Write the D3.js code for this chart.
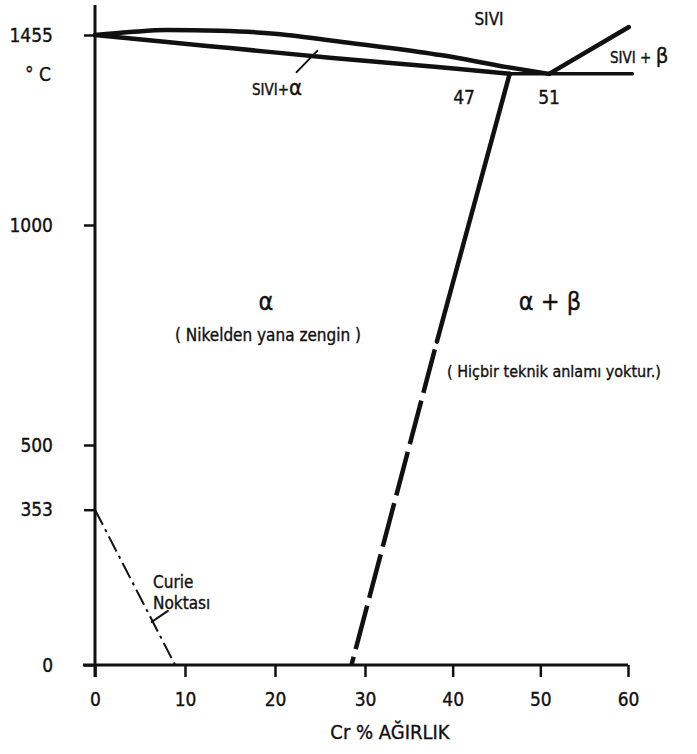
<!DOCTYPE html>
<html lang="tr">
<head>
<meta charset="UTF-8">
<title>Ni-Cr faz diyagrami</title>
<script src="https://cdn.jsdelivr.net/npm/d3@7"></script>
<style>
    body { margin: 0; background: #fff; }
    svg text { font-family: "DejaVu Sans Condensed", "DejaVu Sans", sans-serif; fill: #111; stroke: #111; stroke-width: 0.35px; }
</style>
</head>
<body>
<svg id="chart" width="697" height="754"></svg>
<script>
// eksen degerleri
const crTicks = [0, 10, 20, 30, 40, 50, 60];
const tempTicks = [0, 353, 500, 1000, 1455];

// likidus (SIVI / SIVI+alfa)
const liqCr = [0, 3.9, 8, 13.9, 20.6, 26.4, 32.9, 38.6, 46.2, 51];
const liqT = [1455, 1462, 1467, 1465, 1457, 1441, 1424, 1407, 1378, 1362];
// solidus
const solCr = [0, 8, 15.3, 26.4, 38.6, 46.5];
const solT = [1455, 1438, 1423, 1400, 1378, 1362];
// otektik yatay cizgi
const eutCr = [46.5, 60.5];
const eutT = [1362, 1362];
// beta likidus
const betaCr = [51, 60.1];
const betaT = [1362, 1474];
// cozunurluk siniri: duz kisim ve kesikli kisim
const solvCr = [46.5, 38.2];
const solvT = [1362, 735];
const solvDashCr = [38.2, 28.5];
const solvDashT = [735, 0];
// Curie noktasi
const curieCr = [0, 8.9];
const curieT = [353, 0];

const svg = d3.select("#chart");

// olcekler (orijinal cizimdeki eksen biraz dogrusal degil)
const x = d3.scaleLinear().domain([0, 30, 60]).range([95, 365, 628]);
const y = d3.scaleLinear().domain([0, 1000, 1455]).range([665, 225, 35]);

const line = d3.line().x(d => x(d[0])).y(d => y(d[1])).curve(d3.curveMonotoneX);
const straight = d3.line().x(d => x(d[0])).y(d => y(d[1]));
const zip = (a, b) => a.map((v, i) => [v, b[i]]);

// eksenler
const xAxis = svg.append("g")
    .attr("transform", `translate(0,${y(0)})`)
    .call(d3.axisBottom(x).tickValues(crTicks).tickSize(12).tickPadding(16).tickFormat(d3.format("d")));
const yAxis = svg.append("g")
    .attr("transform", `translate(${x(0)},0)`)
    .call(d3.axisLeft(y).tickValues(tempTicks).tickSize(11).tickPadding(31).tickFormat(d3.format("d")));
[xAxis, yAxis].forEach(g => {
    g.select(".domain").remove();
    g.selectAll(".tick line").attr("stroke", "#111").attr("stroke-width", 2.5);
    g.selectAll(".tick text").style("font-size", "19px").attr("fill", "#111");
});

svg.append("line").attr("x1", x(0)).attr("x2", x(0)).attr("y1", 5).attr("y2", y(0) + 12)
    .attr("stroke", "#111").attr("stroke-width", 3);
svg.append("line").attr("x1", x(0) - 12).attr("x2", x(60)).attr("y1", y(0)).attr("y2", y(0))
    .attr("stroke", "#111").attr("stroke-width", 3);

// faz sinirlari
const curves = svg.append("g").attr("fill", "none").attr("stroke", "#111").attr("stroke-linecap", "round");
curves.append("path").attr("d", line(zip(liqCr, liqT))).attr("stroke-width", 4.5);
curves.append("path").attr("d", line(zip(solCr, solT))).attr("stroke-width", 4.5);
curves.append("path").attr("d", straight(zip(eutCr, eutT))).attr("stroke-width", 3.5);
curves.append("path").attr("d", straight(zip(betaCr, betaT))).attr("stroke-width", 4.5);
curves.append("path").attr("d", straight(zip(solvCr, solvT))).attr("stroke-width", 4.5);
curves.append("path").attr("d", straight(zip(solvDashCr, solvDashT))).attr("stroke-width", 4.5)
    .attr("stroke-linecap", "butt").attr("stroke-dasharray", "45 8").attr("stroke-dashoffset", 45);
curves.append("path").attr("d", straight(zip(curieCr, curieT))).attr("stroke-width", 2)
    .attr("stroke-linecap", "butt").attr("stroke-dasharray", "17 5 3 5");

// isaret cizgileri
curves.append("path").attr("d", straight([[22.4, 1366], [24.7, 1417]])).attr("stroke-width", 2);
curves.append("path").attr("d", straight([[6.3, 98], [8.1, 123]])).attr("stroke-width", 2);

// yazilar
const label = (tx, ty, size, anchor) => svg.append("text")
    .attr("x", tx).attr("y", ty).attr("text-anchor", anchor || "start").style("font-size", size + "px");

label(38, 81, 19, "middle").text("° C");
label(489, 25, 17, "middle").text("SIVI");
const sb = label(610, 63, 15);
sb.append("tspan").text("SIVI + ");
sb.append("tspan").style("font-size", "22px").text("β");
const sa = label(252, 95, 15);
sa.append("tspan").text("SIVI+");
sa.append("tspan").style("font-size", "22px").text("α");
label(464, 104, 19, "middle").text("47");
label(549, 104, 19, "middle").text("51");
label(266, 310, 25, "middle").text("α");
label(268, 341, 17, "middle").text("( Nikelden yana zengin )");
label(550, 310, 25, "middle").text("α + β");
label(447, 377, 16).text("( Hiçbir teknik anlamı yoktur.)");
label(153, 588, 17).text("Curie");
label(153, 609, 17).text("Noktası");
label(390, 739, 20, "middle").text("Cr % AĞIRLIK");
</script>
</body>
</html>
